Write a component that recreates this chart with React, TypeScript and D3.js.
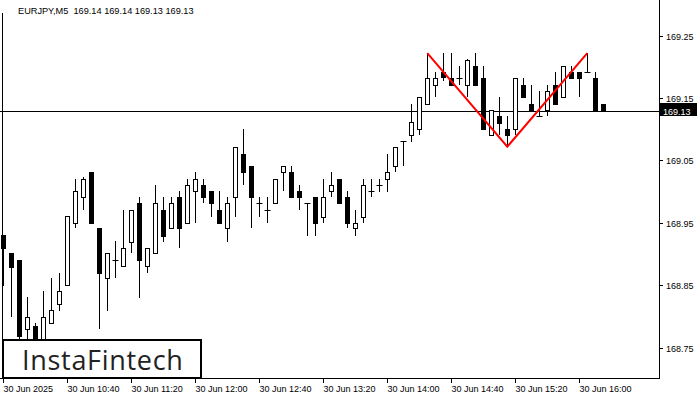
import React from "react";
import * as d3 from "d3";

const opens = [168.930,168.901,168.890,168.780,168.784,168.758,168.790,168.820,168.850,168.950,
168.991,169.031,168.941,168.861,168.890,168.880,168.919,168.981,168.880,168.901,
168.970,168.941,168.991,168.950,169.001,169.010,169.001,168.970,168.941,168.991,
169.061,169.041,168.981,168.970,168.981,169.031,169.031,169.001,168.981,168.991,
168.960,169.001,169.021,168.991,168.941,168.960,169.001,169.010,169.021,169.041,
169.081,169.091,169.101,169.141,169.171,169.191,169.182,169.182,169.171,169.201,
169.182,169.091,169.121,169.101,169.101,169.171,169.141,169.121,169.131,169.171,
169.151,169.191,169.191,169.191,169.182,169.141];
const highs = [168.930,168.901,168.890,168.831,168.790,168.840,168.861,168.870,168.961,169.021,
169.024,169.031,168.941,168.901,168.920,168.970,168.970,168.991,168.910,169.010,
168.991,168.991,169.001,169.021,169.031,169.021,169.001,169.001,168.991,169.071,
169.101,169.041,168.991,168.991,169.021,169.041,169.041,169.010,168.981,168.991,
169.021,169.031,169.021,169.001,168.970,169.021,169.021,169.021,169.061,169.071,
169.081,169.141,169.151,169.222,169.191,169.222,169.222,169.201,169.213,169.222,
169.201,169.131,169.151,169.121,169.182,169.182,169.171,169.161,169.171,169.191,
169.201,169.201,169.191,169.222,169.191,169.141];
const lows = [168.849,168.799,168.762,168.752,168.745,168.750,168.789,168.809,168.850,168.941,
168.970,168.950,168.780,168.809,168.861,168.880,168.901,168.830,168.870,168.901,
168.919,168.941,168.910,168.950,168.950,168.981,168.960,168.950,168.919,168.960,
169.010,168.941,168.960,168.950,168.981,169.001,168.991,168.970,168.929,168.929,
168.950,168.991,168.981,168.941,168.929,168.950,168.991,169.000,169.000,169.031,
169.041,169.080,169.090,169.141,169.151,169.178,169.171,169.171,169.151,169.171,
169.101,169.091,169.090,169.072,169.091,169.151,169.131,169.121,169.121,169.141,
169.151,169.182,169.151,169.191,169.131,169.131];
const closes = [168.910,168.879,168.768,168.799,168.760,168.799,168.810,168.840,168.961,169.001,
169.021,168.950,168.870,168.901,168.891,168.910,168.970,168.890,168.910,168.981,
168.929,168.981,168.941,169.010,169.021,168.991,168.981,168.950,168.981,169.071,
169.031,168.991,168.981,168.970,169.021,169.041,168.991,168.991,168.981,168.950,
168.991,169.010,168.981,168.950,168.950,169.010,169.001,169.010,169.031,169.071,
169.081,169.111,169.151,169.182,169.182,169.184,169.171,169.182,169.211,169.171,
169.101,169.131,169.110,169.091,169.182,169.151,169.131,169.121,169.161,169.141,
169.201,169.182,169.182,169.191,169.131,169.131];

const xTickIdx = [0, 8, 16, 24, 32, 40, 48, 56, 64, 72];
const xTickLabels = ["30 Jun 2025","30 Jun 10:40","30 Jun 11:20","30 Jun 12:00","30 Jun 12:40","30 Jun 13:20","30 Jun 14:00","30 Jun 14:40","30 Jun 15:20","30 Jun 16:00"];
const yTicks = [169.25, 169.15, 169.05, 168.95, 168.85, 168.75];
const currentPrice = 169.13;
const patternIdx = [53, 63, 73];
const patternPrice = [169.222, 169.072, 169.222];
const title = "EURJPY,M5  169.14 169.14 169.13 169.13";

const W = 700, H = 400;
const plotRight = 659, plotBottom = 378;
const font = "'Liberation Sans', Arial, sans-serif";

export default function App() {
  const x = d3.scaleLinear().domain([0, opens.length - 1]).range([3.3, 603.3]);
  const y = d3.scaleLinear().domain([168.75, 169.25]).range([347.5, 35.7]);
  const px = (v: number) => Math.round(x(v)) + 0.5;
  const py = (v: number) => Math.round(y(v));
  const line = d3.line<number>().x((d, i) => x(patternIdx[i])).y((d) => y(d));
  const curY = Math.round(y(currentPrice)) + 0.5;

  return (
    <svg width={W} height={H} style={{ position: "absolute", left: 0, top: 0, background: "#fff" }}>
      <rect x={0} y={0} width={W} height={H} fill="#fff" />
      {/* frame */}
      <line x1={2.5} x2={2.5} y1={13} y2={plotBottom} stroke="#000" />
      <line x1={plotRight + 0.5} x2={plotRight + 0.5} y1={0} y2={plotBottom + 1} stroke="#000" />
      <line x1={0} x2={plotRight + 1} y1={plotBottom + 0.5} y2={plotBottom + 0.5} stroke="#000" />
      {/* current price line */}
      <line x1={0} x2={plotRight} y1={curY} y2={curY} stroke="#000" />
      {/* candles */}
      {opens.map((o, i) => {
        const c = closes[i];
        const cx = px(i);
        const bull = c >= o;
        const top = py(Math.max(o, c));
        const bot = py(Math.min(o, c));
        return (
          <g key={i}>
            <line x1={cx} x2={cx} y1={py(highs[i])} y2={py(lows[i])} stroke="#000" />
            {bot - top < 1 ? (
              <line x1={cx - 3} x2={cx + 3} y1={top + 0.5} y2={top + 0.5} stroke="#000" />
            ) : bull ? (
              <rect x={cx - 2} y={top + 0.5} width={4} height={bot - top} fill="#fff" stroke="#000" />
            ) : (
              <rect x={cx - 2.5} y={top} width={5} height={bot - top + 1} fill="#000" />
            )}
          </g>
        );
      })}
      {/* pattern */}
      <path d={line(patternPrice) || ""} fill="none" stroke="#ff0000" strokeWidth={2} />
      {/* title */}
      <text x={18} y={14} fontFamily={font} fontSize={9.2} fill="#000" style={{ whiteSpace: "pre" }}>{title}</text>
      {/* y axis */}
      {yTicks.map((t) => (
        <g key={t}>
          <line x1={plotRight} x2={plotRight + 4} y1={py(t) + 0.5} y2={py(t) + 0.5} stroke="#000" />
          <text x={666} y={py(t) + 3.5} fontFamily={font} fontSize={9} fill="#000">{t.toFixed(2)}</text>
        </g>
      ))}
      <rect x={660} y={103} width={37} height={13} fill="#000" />
      <text x={663} y={curY + 3.5} fontFamily={font} fontSize={9} fill="#fff">{currentPrice.toFixed(2)}</text>
      {/* x axis */}
      {xTickIdx.map((t, k) => (
        <g key={t}>
          <line x1={px(t)} x2={px(t)} y1={plotBottom} y2={plotBottom + 5} stroke="#000" />
          <text x={px(t)} y={392} fontFamily={font} fontSize={9} fill="#000">{xTickLabels[k]}</text>
        </g>
      ))}
      {/* logo */}
      <rect x={3} y={340} width={198} height={38} fill="#fff" stroke="#000" strokeWidth={2} />
      <text x={22} y={370} fontFamily="'Open Sans', Lato, sans-serif" fontSize={27} fontWeight={500} letterSpacing={0.7} fill="#222">InstaFintech</text>
    </svg>
  );
}
